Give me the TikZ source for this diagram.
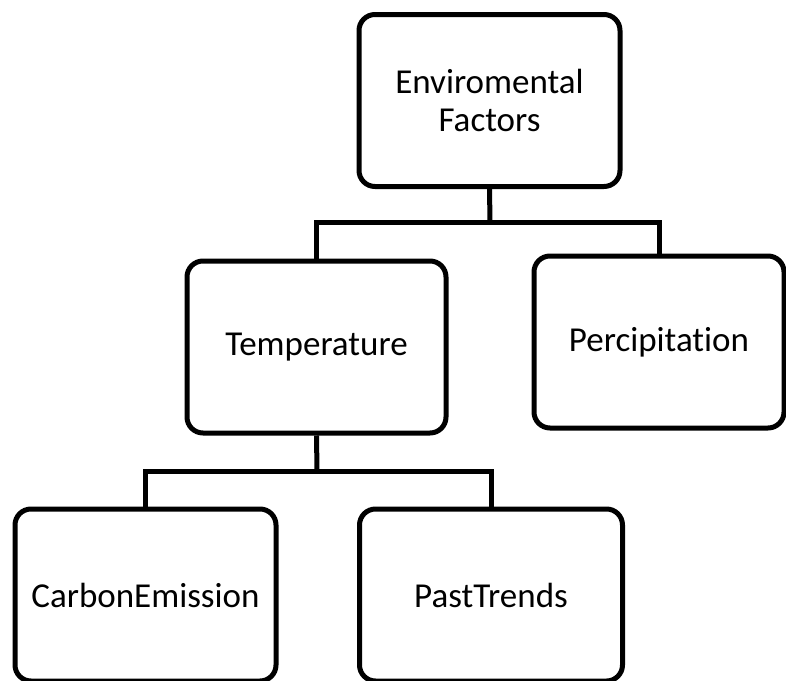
\documentclass[tikz,border=0pt]{standalone}
\usepackage{fontspec}
\setmainfont{Carlito}[Ligatures={NoCommon}]
\usepackage{tikz}
\usetikzlibrary{positioning}

\tikzset{
    factorbox/.style={draw, line width=5pt, rounded corners=16pt, fill=white,
        inner sep=0pt, align=center, minimum height=172pt,
        font=\fontsize{35}{38}\selectfont},
    link/.style={line width=5pt}
}

\begin{document}
\begin{tikzpicture}[x=1pt,y=-1pt]

\useasboundingbox (0,0) rectangle (786,680);
\clip (0,0) rectangle (786,680);

% Boxes
\node[factorbox, minimum width=261pt] (env) at (489.5,100.5) {Enviromental\\Factors};
\node[factorbox, minimum width=259pt] (temp) at (316.5,347) {Temperature};
\node[factorbox, minimum width=250pt] (perc) at (659,342) {Percipitation};
\node[factorbox, minimum width=261pt] (carbon) at (145.5,595) {CarbonEmission};
\node[factorbox, minimum width=263pt] (trends) at (491,595) {PastTrends};

% Connectors
\coordinate (bus1) at (490,222);
\coordinate (bus2) at (317,471);
\draw[link] (env.south) -- (bus1);
\draw[link] (bus1) -| (temp.north);
\draw[link] (bus1) -| (perc.north);
\draw[link] (temp.south) -- (bus2);
\draw[link] (bus2) -| (carbon.north);
\draw[link] (bus2) -| (trends.north);

\end{tikzpicture}
\end{document}
